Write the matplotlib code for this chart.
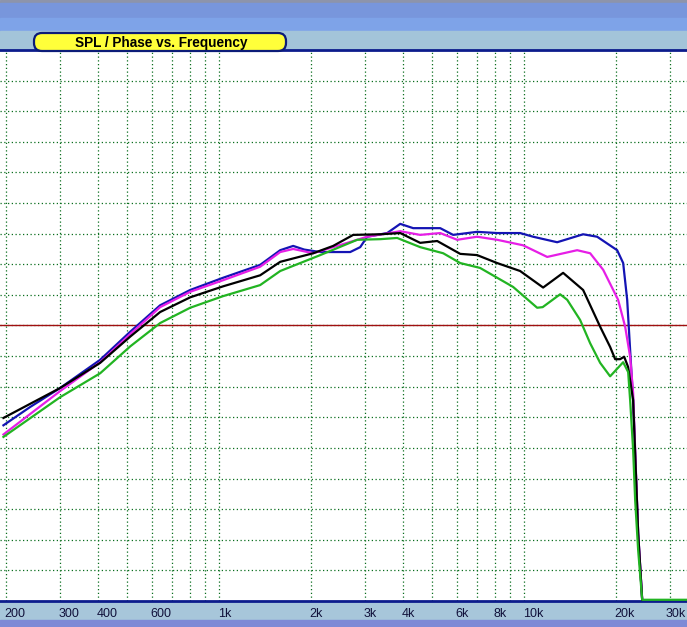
import numpy as np
import matplotlib
matplotlib.use('Agg')
import matplotlib.pyplot as plt
from matplotlib.patches import Rectangle, FancyBboxPatch
from matplotlib.transforms import ScaledTranslation

plt.rcParams['font.family'] = ['Liberation Sans', 'DejaVu Sans']

# --- data (Hz / dB) ---
blue_hz = [196, 240, 301, 407, 511, 640, 803, 1030, 1362, 1585, 1748, 1900, 2144, 2689, 2900,
           3057, 3554, 3922, 4326, 5305, 5850, 7010, 8155, 9700, 10700, 12830, 15610, 17350,
           20180, 21120, 21770, 22260, 22770, 23650, 24380]
blue_db = [38.7, 41.7, 44.8, 49.4, 54.0, 58.3, 60.8, 62.8, 64.9, 67.3, 68.0, 67.4, 67.0, 67.0, 67.8,
           69.5, 70.1, 71.6, 70.9, 70.9, 69.8, 70.3, 70.1, 70.1, 69.5, 68.6, 69.9, 69.5,
           67.3, 65.2, 59.2, 51.0, 42.8, 21.1, 10.2]

mag_hz = [196, 301, 407, 511, 640, 803, 1030, 1362, 1585, 1748, 2033, 2629, 3057, 3922, 4560,
          5305, 6030, 7010, 8155, 9920, 11900, 14920, 16460, 18160, 20330, 21440, 22260, 22770,
          23650, 24380]
mag_db = [37.2, 44.3, 49.0, 53.6, 58.0, 60.5, 62.4, 64.6, 67.0, 67.5, 66.8, 68.5, 69.5, 70.4, 69.8,
          70.1, 69.0, 69.5, 69.0, 68.1, 66.2, 67.3, 66.8, 64.1, 59.2, 54.8, 49.9, 44.0,
          21.1, 10.2]

blk_hz = [196, 301, 407, 511, 640, 803, 1030, 1362, 1585, 2033, 2364, 2750, 3372, 3922, 4560,
          5186, 6170, 7010, 8155, 9700, 11540, 13420, 15610, 17750, 19140, 19880, 20640, 21280,
          21930, 22770, 23650, 24380]
blk_db = [39.9, 44.8, 48.9, 53.2, 57.2, 59.6, 61.4, 63.2, 65.4, 66.8, 68.0, 69.8, 69.9, 70.1, 68.5,
          68.8, 66.7, 66.5, 65.2, 63.9, 61.2, 63.6, 60.8, 54.8, 51.5, 49.5, 49.5, 49.9,
          48.2, 42.8, 21.1, 10.2]

grn_hz = [196, 301, 407, 511, 640, 803, 1030, 1362, 1585, 2144, 2835, 3372, 3833, 4560, 5426,
          6170, 7170, 9200, 11030, 11500, 13120, 13840, 15260, 16460, 17750, 19140, 21120, 21930,
          22260, 22770, 23120, 23650, 24380, 35000]
grn_db = [36.8, 43.3, 47.2, 51.6, 55.4, 57.9, 59.8, 61.6, 63.9, 66.5, 69.0, 69.1, 69.3, 67.8, 66.8,
          65.2, 64.4, 61.3, 57.9, 58.0, 60.1, 59.2, 55.9, 52.1, 48.9, 46.7, 49.0, 47.4,
          42.8, 34.7, 26.5, 18.3, 10.2, 10.2]

ref_level = 55
grid_hz = [200, 300, 400, 500, 600, 700, 800, 900, 1000, 2000, 3000, 4000, 5000, 6000,
           7000, 8000, 9000, 10000, 20000, 30000]
tick_labels = {200: '200', 300: '300', 400: '400', 600: '600', 1000: '1k', 2000: '2k',
               3000: '3k', 4000: '4k', 6000: '6k', 8000: '8k', 10000: '10k',
               20000: '20k', 30000: '30k'}
title = 'SPL / Phase vs. Frequency'

W, H = 687, 627
fig = plt.figure(figsize=(W / 100, H / 100), dpi=100)

# background (window chrome), pixel coords
bg = fig.add_axes([0, 0, 1, 1], zorder=-1)
bg.set_xlim(0, W)
bg.set_ylim(H, 0)
bg.axis('off')
bg.add_patch(Rectangle((0, 0), W, 3, color='#8d94ab'))
bg.add_patch(Rectangle((0, 3), W, 15, color='#7896dc'))
bg.add_patch(Rectangle((0, 18), W, 13, color='#7ea3e8'))
bg.add_patch(Rectangle((0, 31), W, 20, color='#a3c4d9'))
bg.add_patch(Rectangle((0, 600), W, 21, color='#a7c6da'))
bg.add_patch(Rectangle((0, 620), W, 7, color='#7e8ad6'))

# plot area
ax = fig.add_axes([0, 26 / H, 1, 551 / H])
ax.set_facecolor('white')
ax.set_xscale('log')
ax.set_xlim(191, 34200)
ax.set_ylim(10, 100)
ax.set_xticks(grid_hz)
ax.set_xticklabels([tick_labels.get(f, '') for f in grid_hz])
ax.xaxis.set_minor_locator(matplotlib.ticker.NullLocator())
ax.set_yticks(np.arange(15, 100, 5))
ax.set_yticklabels([])
ax.tick_params(axis='both', length=0)
ax.tick_params(axis='x', pad=5, labelsize=9, labelcolor='#10103a')
shift = ScaledTranslation(-1.5 / 100, 0, fig.dpi_scale_trans)
for lbl in ax.get_xticklabels():
    lbl.set_horizontalalignment('left')
    lbl.set_transform(lbl.get_transform() + shift)
# last label would run off the right edge: right-align it to the window edge
last = ax.get_xticklabels()[-1]
last.set_horizontalalignment('right')
last.set_transform(last.get_transform() + ScaledTranslation(17.5 / 100, 0, fig.dpi_scale_trans))

ax.grid(True, color='#0a6e1e', linestyle=(0, (1, 2)), linewidth=0.9)
for side in ['left', 'right']:
    ax.spines[side].set_visible(False)
ax.spines['bottom'].set_color('#0c1c8c')
ax.spines['bottom'].set_linewidth(2)
ax.spines['top'].set_color('#0c1c8c')
ax.spines['top'].set_linewidth(2)

ax.axhline(ref_level, color='#a01010', lw=1, zorder=2)

ax.plot(blue_hz, blue_db, color='#1414b4', lw=1.6, zorder=3)
ax.plot(mag_hz, mag_db, color='#e61ee6', lw=1.6, zorder=3)
ax.plot(blk_hz, blk_db, color='black', lw=1.6, zorder=3)
ax.plot(grn_hz, grn_db, color='#22b422', lw=1.6, zorder=3, clip_on=False)

# tab with title
fg = fig.add_axes([0, 0, 1, 1], zorder=10)
fg.set_xlim(0, W)
fg.set_ylim(H, 0)
fg.axis('off')
fg.patch.set_alpha(0)
fg.add_patch(FancyBboxPatch((34, 33), 252, 18, boxstyle='round,pad=0,rounding_size=8',
                            facecolor='#ffff3a', edgecolor='#0c1c78', lw=1.6))
fg.text(161, 42.5, title, ha='center', va='center', fontsize=9.8, fontweight='bold', color='black')

fig.savefig('out.png', dpi=100)
